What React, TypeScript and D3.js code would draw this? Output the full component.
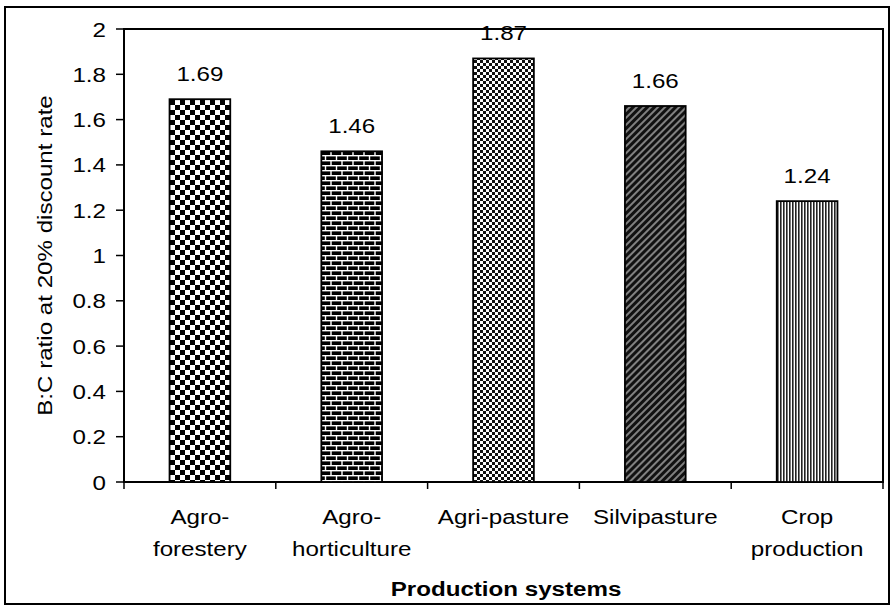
import React from "react";
import * as d3 from "d3";

const categories = [
  ["Agro-", "forestery"],
  ["Agro-", "horticulture"],
  ["Agri-pasture"],
  ["Silvipasture"],
  ["Crop", "production"],
];
const ratios = [1.69, 1.46, 1.87, 1.66, 1.24];
const yTicks = [0, 0.2, 0.4, 0.6, 0.8, 1, 1.2, 1.4, 1.6, 1.8, 2];
const patternIds = ["checker", "brick", "smallchecker", "diag", "vlines"];

const W = 893;
const H = 610;
const plot = { left: 124, right: 883, top: 29, bottom: 482 };
const font = "Arial, 'Liberation Sans', sans-serif";
// the scanned lettering runs a bit wider than plain Arial
const stretch = 1.15;

function T(props: {
  x: number;
  y: number;
  rotate?: number;
  anchor?: string;
  size?: number;
  bold?: boolean;
  dy?: string;
  children: React.ReactNode;
}) {
  const { x, y, rotate = 0, anchor = "middle", size = 21, bold, dy, children } = props;
  return (
    <text
      transform={`translate(${x},${y}) rotate(${rotate}) scale(${stretch},1)`}
      textAnchor={anchor}
      fontSize={size}
      fontWeight={bold ? "bold" : "normal"}
      dy={dy}
    >
      {children}
    </text>
  );
}

export default function App() {
  const keys = categories.map((c) => c.join(" "));
  const x = d3
    .scaleBand<string>()
    .domain(keys)
    .range([plot.left, plot.right])
    .paddingInner(0.6)
    .paddingOuter(0.3);
  const y = d3.scaleLinear().domain([0, 2]).range([plot.bottom, plot.top]);
  const step = x.step();
  const start = x.range()[0];

  return (
    <svg
      width={W}
      height={H}
      style={{ position: "absolute", left: 0, top: 0, background: "#fff" }}
      fontFamily={font}
    >
      <defs>
        <pattern id="checker" width={10} height={10} patternUnits="userSpaceOnUse">
          <rect width={10} height={10} fill="#fff" />
          <rect width={5} height={5} fill="#000" />
          <rect x={5} y={5} width={5} height={5} fill="#000" />
        </pattern>
        <pattern id="brick" width={11} height={10} patternUnits="userSpaceOnUse">
          <rect width={11} height={10} fill="#000" />
          <line x1={0} y1={0.7} x2={11} y2={0.7} stroke="#fff" strokeWidth={1.4} />
          <line x1={0} y1={5.7} x2={11} y2={5.7} stroke="#fff" strokeWidth={1.4} />
          <line x1={1} y1={0} x2={1} y2={5.7} stroke="#fff" strokeWidth={1.4} />
          <line x1={6.5} y1={5.7} x2={6.5} y2={10} stroke="#fff" strokeWidth={1.4} />
        </pattern>
        <pattern id="smallchecker" width={6} height={6} patternUnits="userSpaceOnUse">
          <rect width={6} height={6} fill="#fff" />
          <rect width={3} height={3} fill="#111" />
          <rect x={3} y={3} width={3} height={3} fill="#111" />
        </pattern>
        <pattern
          id="diag"
          width={5}
          height={5}
          patternUnits="userSpaceOnUse"
          patternTransform="rotate(45)"
        >
          <rect width={5} height={5} fill="#111" />
          <line x1={1} y1={0} x2={1} y2={5} stroke="#ddd" strokeWidth={1.1} />
        </pattern>
        <pattern id="vlines" width={3} height={3} patternUnits="userSpaceOnUse">
          <rect width={3} height={3} fill="#fff" />
          <rect width={1.6} height={3} fill="#222" />
        </pattern>
      </defs>

      {/* outer frame */}
      <rect x={5} y={7} width={884} height={597} fill="none" stroke="#000" strokeWidth={2} />

      {/* plot box */}
      <rect
        x={plot.left}
        y={plot.top}
        width={plot.right - plot.left}
        height={plot.bottom - plot.top}
        fill="none"
        stroke="#000"
        strokeWidth={2}
      />

      {/* y axis ticks + labels */}
      {yTicks.map((t) => (
        <g key={t}>
          <line x1={plot.left - 8} x2={plot.left} y1={y(t)} y2={y(t)} stroke="#000" strokeWidth={1.5} />
          <T x={106} y={y(t)} anchor="end" dy="0.36em">
            {t}
          </T>
        </g>
      ))}

      {/* x ticks at category boundaries */}
      {d3.range(categories.length + 1).map((i) => (
        <line
          key={i}
          x1={start + i * step}
          x2={start + i * step}
          y1={plot.bottom}
          y2={plot.bottom + 7}
          stroke="#000"
          strokeWidth={1.5}
        />
      ))}

      {/* bars */}
      {keys.map((k, i) => {
        const cx = (x(k) as number) + x.bandwidth() / 2;
        return (
          <g key={k}>
            <rect
              x={x(k)}
              y={y(ratios[i])}
              width={x.bandwidth()}
              height={y(0) - y(ratios[i])}
              fill={`url(#${patternIds[i]})`}
              stroke="#000"
              strokeWidth={1.8}
            />
            <T x={cx} y={y(ratios[i]) - 18}>
              {ratios[i].toFixed(2)}
            </T>
            {categories[i].map((line, j) => (
              <T key={j} x={cx} y={plot.bottom + 42 + j * 32}>
                {line}
              </T>
            ))}
          </g>
        );
      })}

      {/* axis titles */}
      <T x={52} y={(plot.top + plot.bottom) / 2} rotate={-90}>
        B:C ratio at 20% discount rate
      </T>
      <T x={506} y={596} size={21} bold>
        Production systems
      </T>
    </svg>
  );
}
